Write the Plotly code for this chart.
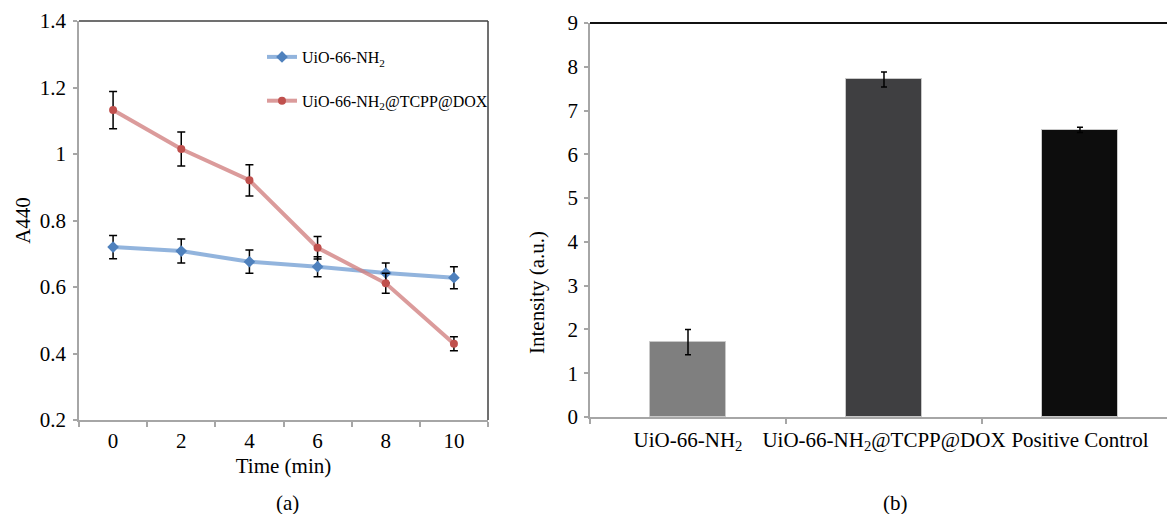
import plotly.graph_objects as go

# ---- data (a) ----
time_min = [0, 2, 4, 6, 8, 10]
uio_vals = [0.720, 0.708, 0.676, 0.661, 0.642, 0.628]
uio_err = [0.035, 0.036, 0.035, 0.030, 0.030, 0.033]
dox_vals = [1.132, 1.015, 0.921, 0.718, 0.611, 0.429]
dox_err = [0.056, 0.051, 0.047, 0.034, 0.030, 0.021]
a_ytick_vals = [0.2, 0.4, 0.6, 0.8, 1.0, 1.2, 1.4]
a_ytick_text = ["0.2", "0.4", "0.6", "0.8", "1", "1.2", "1.4"]

# ---- data (b) ----
b_categories = ["UiO-66-NH<sub>2</sub>", "UiO-66-NH<sub>2</sub>@TCPP@DOX", "Positive Control"]
b_vals = [1.71, 7.71, 6.56]
b_err = [0.29, 0.17, 0.06]
b_colors = ["#7f7f7f", "#3f3f41", "#0d0d0d"]
b_ytick_vals = [0, 1, 2, 3, 4, 5, 6, 7, 8, 9]

FONT = "Liberation Serif"
W, H = 1167, 514
AXC = "#a6a6a6"

fig = go.Figure()

fig.add_trace(go.Scatter(
    x=time_min, y=uio_vals, name="UiO-66-NH<sub>2</sub>", legendgroup="g1",
    mode="lines+markers",
    line=dict(color="rgba(110,155,210,0.75)", width=4),
    marker=dict(symbol="diamond", size=9, color="#4f81bd"),
    error_y=dict(type="data", array=uio_err, color="black", thickness=1.5, width=4),
    xaxis="x", yaxis="y"))
fig.add_trace(go.Scatter(
    x=time_min, y=dox_vals, name="UiO-66-NH<sub>2</sub>@TCPP@DOX", legendgroup="g2",
    mode="lines+markers",
    line=dict(color="rgba(210,130,130,0.8)", width=4),
    marker=dict(symbol="circle", size=8, color="#c0504d"),
    error_y=dict(type="data", array=dox_err, color="black", thickness=1.5, width=4),
    xaxis="x", yaxis="y"))

fig.add_trace(go.Bar(
    x=list(range(len(b_categories))), y=b_vals, width=0.39,
    marker=dict(color=b_colors, line=dict(color="#c8c8c8", width=1)),
    error_y=dict(type="data", array=b_err, color="black", thickness=1.5, width=3),
    showlegend=False, xaxis="x2", yaxis="y2"))

def px_x(p):
    return p / W

def px_y(p):
    return 1 - p / H

fig.update_layout(
    width=W, height=H,
    margin=dict(l=0, r=0, t=0, b=0, autoexpand=False),
    paper_bgcolor="white", plot_bgcolor="white",
    font=dict(family=FONT, size=21, color="black"),
    showlegend=True,
    legend=dict(x=px_x(262), y=px_y(40), xanchor="left", yanchor="top",
                font=dict(family=FONT, size=16, color="black"),
                tracegroupgap=20, bgcolor="rgba(0,0,0,0)", itemwidth=30),
    bargap=0,
    xaxis=dict(domain=[px_x(79), px_x(488)], range=[-1, 11], automargin=False,
               tickmode="array", tickvals=time_min, ticktext=[str(t) for t in time_min],
               ticks="", showline=True, linecolor=AXC, linewidth=1.5, tickangle=0,
               showgrid=False, zeroline=False,
               minor=dict(tickmode="array", tickvals=[-1, 1, 3, 5, 7, 9, 11],
                          ticks="outside", ticklen=5, tickcolor=AXC, tickwidth=1.5),
               title=dict(text="Time (min)", standoff=6, font=dict(size=21)),
               anchor="y", ticklabelstandoff=1),
    yaxis=dict(domain=[px_y(420), px_y(21)], range=[0.2, 1.4], automargin=False,
               tickmode="array", tickvals=a_ytick_vals, ticktext=a_ytick_text,
               ticks="outside", ticklen=4, tickcolor=AXC, tickwidth=1.5,
               showline=True, linecolor=AXC, linewidth=1.5,
               showgrid=False, zeroline=False,
               title=dict(text="A440", standoff=3, font=dict(size=21)),
               anchor="x", ticklabelstandoff=3),
    xaxis2=dict(domain=[px_x(590), 1.0], range=[-0.5, 2.444], automargin=False,
                tickmode="array", tickvals=list(range(len(b_categories))), ticktext=b_categories,
                ticks="", showline=True, linecolor=AXC, linewidth=1.5, tickangle=0,
                showgrid=False, zeroline=False,
                minor=dict(tickmode="array", tickvals=[-0.5, 0.5, 1.5],
                           ticks="outside", ticklen=5, tickcolor=AXC, tickwidth=1.5),
                anchor="y2", ticklabelstandoff=3),
    yaxis2=dict(domain=[px_y(417), px_y(23)], range=[0, 9], automargin=False,
                tickmode="array", tickvals=b_ytick_vals,
                ticks="outside", ticklen=4, tickcolor=AXC, tickwidth=1.5,
                showline=True, linecolor=AXC, linewidth=1.5,
                showgrid=False, zeroline=False,
                anchor="x2", ticklabelstandoff=2),
    shapes=[
        dict(type="line", xref="x domain", yref="y domain", x0=0, x1=1, y0=1, y1=1,
             line=dict(color="#404040", width=1.5)),
        dict(type="line", xref="x domain", yref="y domain", x0=1, x1=1, y0=0, y1=1,
             line=dict(color="#404040", width=1.5)),
        dict(type="line", xref="x2 domain", yref="y2 domain", x0=0, x1=1, y0=1, y1=1,
             line=dict(color="#111111", width=2)),
    ],
    annotations=[
        dict(text="Intensity (a.u.)", textangle=-90, xref="paper", yref="paper",
             x=px_x(537), y=px_y(293), xanchor="center", yanchor="middle",
             showarrow=False, font=dict(size=21)),
        dict(text="(a)", xref="paper", yref="paper", x=px_x(287), y=px_y(503),
             xanchor="center", yanchor="middle", showarrow=False, font=dict(size=21)),
        dict(text="(b)", xref="paper", yref="paper", x=px_x(895), y=px_y(503),
             xanchor="center", yanchor="middle", showarrow=False, font=dict(size=21)),
    ],
)

fig.write_html("out.html")
